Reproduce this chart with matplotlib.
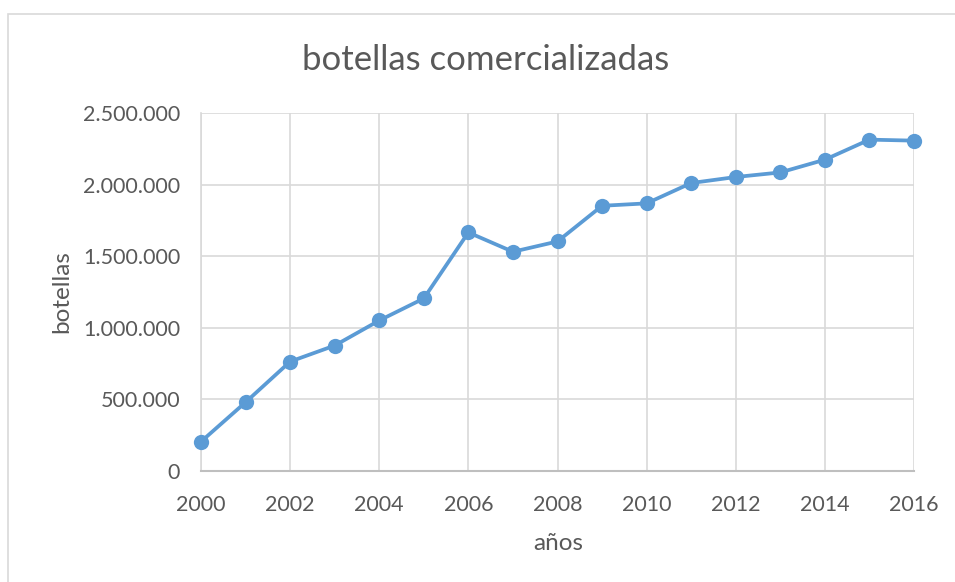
import matplotlib
matplotlib.use("Agg")
import matplotlib.pyplot as plt
from matplotlib.patches import Rectangle
from matplotlib.ticker import FuncFormatter

# datos
years = [2000, 2001, 2002, 2003, 2004, 2005, 2006, 2007, 2008,
         2009, 2010, 2011, 2012, 2013, 2014, 2015, 2016]
bottles = [205000, 480000, 764000, 876000, 1051000, 1205000, 1666000, 1531000, 1603000,
           1852000, 1869000, 2011000, 2053000, 2085000, 2174000, 2314000, 2307000]

title = "botellas comercializadas"
xlabel = "años"
ylabel = "botellas"

text_col = "#595959"
grid_col = "#D9D9D9"
line_col = "#5B9BD5"

plt.rcParams['font.family'] = ['Lato', 'DejaVu Sans']

fig = plt.figure(figsize=(9.55, 5.82), dpi=100)
ax = fig.add_axes([201/955, 1 - 471/582, (914 - 201)/955, (471 - 113)/582])

# marco del grafico (solo se ven los bordes izquierdo y superior)
fig.patches.append(Rectangle((8/955, -0.1), 1.2, 1 - 14/582 + 0.1, transform=fig.transFigure,
                             fill=False, edgecolor=grid_col, linewidth=1.2))

ax.plot(years, bottles, color=line_col, linewidth=2.7, marker='o', markersize=11,
        markeredgewidth=0, zorder=3, clip_on=False)

ax.set_xlim(2000, 2016)
ax.set_ylim(0, 2500000)
ax.set_xticks(range(2000, 2017, 2))
ax.set_yticks(range(0, 2500001, 500000))
ax.yaxis.set_major_formatter(FuncFormatter(lambda v, p: "{:,.0f}".format(v).replace(",", ".")))

ax.grid(True, color=grid_col, linewidth=1.2)
ax.set_axisbelow(True)
for s in ['top', 'right']:
    ax.spines[s].set_visible(False)
ax.spines['left'].set_color(grid_col)
ax.spines['left'].set_linewidth(1.2)
ax.spines['bottom'].set_color("#BFBFBF")
ax.spines['bottom'].set_linewidth(1.5)

ax.tick_params(length=0, labelsize=15.5, labelcolor=text_col)
ax.tick_params(axis='x', pad=17)
ax.tick_params(axis='y', pad=15)

fig.text(486/955, 1 - 60/582, title, ha='center', va='center', fontsize=25, color=text_col)
fig.text(62/955, 1 - 292/582, ylabel, ha='center', va='center', rotation=90, fontsize=17.5, color=text_col)
fig.text(558/955, 1 - 543/582, xlabel, ha='center', va='center', fontsize=17.5, color=text_col)

fig.savefig("out.png", dpi=100, facecolor="white")
